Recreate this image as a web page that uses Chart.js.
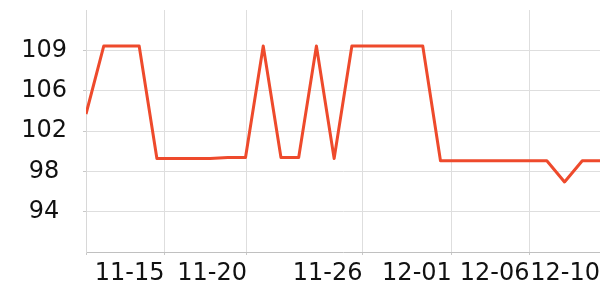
<!DOCTYPE html>
<html>
<head>
<meta charset="utf-8">
<script src="https://cdn.jsdelivr.net/npm/chart.js@4.4.1/dist/chart.umd.min.js"></script>
<style>
html,body{margin:0;padding:0;background:#fff;}
#wrap{width:600px;height:300px;}
</style>
</head>
<body>
<div id="wrap"><canvas id="c" width="600" height="300"></canvas></div>
<script>
// Categories (one point per day)
const dates = ['11-11','11-12','11-13','11-14','11-15','11-16','11-17','11-18','11-19','11-20',
               '11-21','11-22','11-23','11-24','11-25','11-26','11-27','11-28','11-29','11-30',
               '12-01','12-02','12-03','12-04','12-05','12-06','12-07','12-08','12-09','12-10'];
// Series values
const values = [103.4, 109.8, 109.8, 109.8, 99.2, 99.2, 99.2, 99.2, 99.3, 99.3,
                109.8, 99.3, 99.3, 109.8, 99.2, 109.8, 109.8, 109.8, 109.8, 109.8,
                99.0, 99.0, 99.0, 99.0, 99.0, 99.0, 99.0, 97.0, 99.0, 99.0];
// X tick positions (in day offsets from first date) and labels
const xTickPositions = [0, 4.43, 9.08, 15.6, 20.64, 25.02, 29];
const xTickLabels = ['', '11-15', '11-20', '11-26', '12-01', '12-06', '12-10'];
// Y tick values and labels
const yTickValues = [94.2, 98.0, 101.8, 105.6, 109.4];
const yTickLabels = ['94', '98', '102', '106', '109'];
const yMin = 90.4, yMax = 113.2;

const points = values.map((v, i) => ({x: i, y: v}));
const font = {family: 'DejaVu Sans', size: 24};

new Chart(document.getElementById('c'), {
  type: 'line',
  data: {
    labels: dates,
    datasets: [{
      data: points,
      borderColor: '#ee4a2c',
      borderWidth: 3,
      pointRadius: 0,
      pointHoverRadius: 0,
      tension: 0,
      fill: false,
      borderJoinStyle: 'round'
    }]
  },
  options: {
    responsive: false,
    animation: false,
    devicePixelRatio: 1,
    layout: {padding: {top: 10, left: 0, right: 0, bottom: 0}},
    plugins: {legend: {display: false}, tooltip: {enabled: false}},
    scales: {
      x: {
        type: 'linear',
        min: 0,
        max: dates.length - 1,
        afterBuildTicks: s => { s.ticks = xTickPositions.map(v => ({value: v})); },
        afterFit: s => { s.paddingLeft = 0; s.paddingRight = 0; s.height = 48; },
        ticks: {
          autoSkip: false,
          maxRotation: 0,
          minRotation: 0,
          align: 'end',
          padding: 4,
          font: font,
          color: '#111',
          callback: (v, i) => xTickLabels[i]
        },
        grid: {color: '#dedede', tickLength: 3, tickColor: '#c8c8c8'},
        border: {color: '#c0c0c0'}
      },
      y: {
        type: 'linear',
        min: yMin,
        max: yMax,
        afterBuildTicks: s => { s.ticks = yTickValues.map(v => ({value: v})); },
        afterFit: s => { s.paddingTop = 0; s.paddingBottom = 0; s.width = 86; },
        ticks: {
          padding: 16,
          crossAlign: 'center',
          font: font,
          color: '#111',
          callback: (v, i) => yTickLabels[i]
        },
        grid: {color: '#dedede', tickLength: 3, tickColor: '#c8c8c8'},
        border: {color: '#d8d8d8'}
      }
    }
  }
});
</script>
</body>
</html>
